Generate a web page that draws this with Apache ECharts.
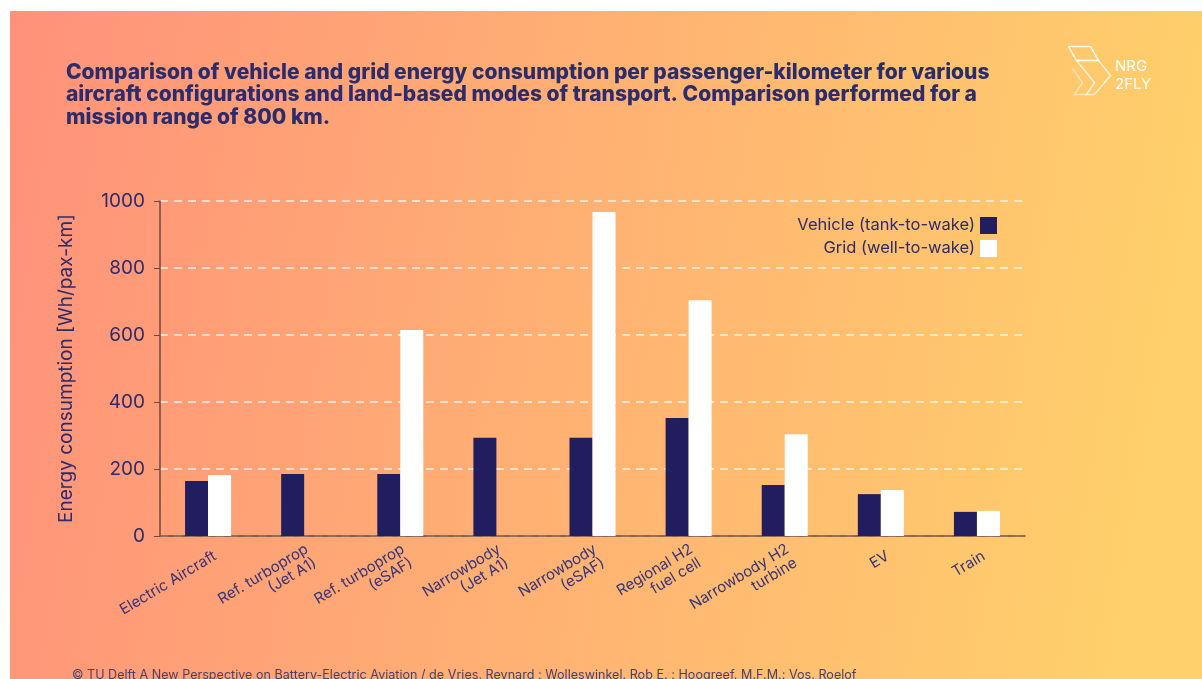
<!DOCTYPE html>
<html><head><meta charset="utf-8">
<script src="https://cdn.jsdelivr.net/npm/echarts@6/dist/echarts.min.js"></script>
<style>html,body{margin:0;padding:0;background:#fff}#c{width:1202px;height:679px}</style>
</head><body><div id="c"></div>
<script>
const categories = ['Electric Aircraft','Ref. turboprop\n(Jet A1)','Ref. turboprop\n(eSAF)','Narrowbody\n(Jet A1)','Narrowbody\n(eSAF)','Regional H2\nfuel cell','Narrowbody H2\nturbine','EV','Train'];
const vehicle = [164, 185, 185, 293, 293, 352, 152, 125, 72];
const grid = [182, 0, 615, 0, 967, 704, 304, 137, 75];
const yTicks = [0, 200, 400, 600, 800, 1000];

const navy = '#2b2c6c';
const chart = echarts.init(document.getElementById('c'));
const font = 'Inter';
chart.setOption({
  backgroundColor: '#ffffff',
  animation: false,
  textStyle: {fontFamily: font},
  title: {
    text: 'Comparison of vehicle and grid energy consumption per passenger-kilometer for various\naircraft configurations and land-based modes of transport. Comparison performed for a\nmission range of 800 km.',
    left: 61, top: 56,
    textStyle: {fontFamily: font, fontSize: 21, fontWeight: 800, color: navy, lineHeight: 22.5}
  },
  graphic: [
    {type: 'rect', z: -10, shape: {x: 10, y: 11, width: 1192, height: 668},
      style: {fill: new echarts.graphic.LinearGradient(0, 0, 1, 0.3, [
        {offset: 0, color: '#ff917a'}, {offset: 0.5, color: '#ffb173'}, {offset: 1, color: '#ffd06b'}])}},
    {type: 'text', left: 72, top: 669, z: 10,
      style: {text: '© TU Delft A New Perspective on Battery-Electric Aviation / de Vries, Reynard ; Wolleswinkel, Rob E. ; Hoogreef, M.F.M.; Vos, Roelof',
        fontFamily: font, fontSize: 12.6, fill: '#4a3f6a'}},
    {type: 'group', left: 1066, top: 44, children: [
      {type: 'polyline', shape: {points: [[0,0],[22,0],[30,14],[8,14],[0,0]]}, style: {stroke: 'rgba(255,255,255,0.9)', lineWidth: 1.5, fill: 'none'}},
      {type: 'polyline', shape: {points: [[8,14],[30,14],[42,29],[26,48],[18,48],[26,36],[8,14]]}, style: {stroke: 'rgba(255,255,255,0.75)', lineWidth: 1.5, fill: 'none'}},
      {type: 'polyline', shape: {points: [[4,22],[14,36],[6,48],[18,48]]}, style: {stroke: 'rgba(255,255,255,0.5)', lineWidth: 1.5, fill: 'none'}}
    ]},
    {type: 'text', left: 1115, top: 57, style: {text: 'NRG\n2FLY', fontFamily: font, fontSize: 15, lineHeight: 18, fill: '#ffffff'}}
  ],
  legend: {
    orient: 'vertical', right: 200, top: 212, align: 'right',
    itemWidth: 17, itemHeight: 17, itemGap: 6,
    textStyle: {fontFamily: font, fontSize: 16.5, color: navy},
    icon: 'rect',
    data: ['Vehicle (tank-to-wake)', 'Grid (well-to-wake)']
  },
  grid: {left: 160, right: 177, top: 201, bottom: 143, containLabel: false},
  xAxis: {
    type: 'category', data: categories,
    axisLine: {lineStyle: {color: '#6b4a3c', width: 1.5}},
    axisTick: {show: false},
    axisLabel: {interval: 0, rotate: 31, fontFamily: font, fontSize: 15, color: '#34357a', lineHeight: 16, margin: 23, padding: [0, -8, 0, 0]}
  },
  yAxis: {
    type: 'value', min: 0, max: 1000, interval: 200,
    name: 'Energy consumption [Wh/pax-km]', nameLocation: 'middle', nameGap: 84,
    nameTextStyle: {fontFamily: font, fontSize: 19, color: navy},
    axisLine: {show: true, lineStyle: {color: '#6b4a3c', width: 1.5}},
    axisTick: {show: true, length: 6, lineStyle: {color: '#6b4a3c'}},
    axisLabel: {fontFamily: font, fontSize: 19, color: navy, margin: 15,
      formatter: v => yTicks.includes(v) ? String(v) : ''},
    splitLine: {show: true, lineStyle: {color: 'rgba(255,255,255,0.85)', type: [8, 6], width: 1.5}}
  },
  series: [
    {name: 'Vehicle (tank-to-wake)', type: 'bar', data: vehicle, barWidth: 23, barGap: '0%', itemStyle: {color: '#221d5e'}},
    {name: 'Grid (well-to-wake)', type: 'bar', data: grid, barWidth: 23, barGap: '0%', itemStyle: {color: '#ffffff'}}
  ]
});
</script></body></html>
